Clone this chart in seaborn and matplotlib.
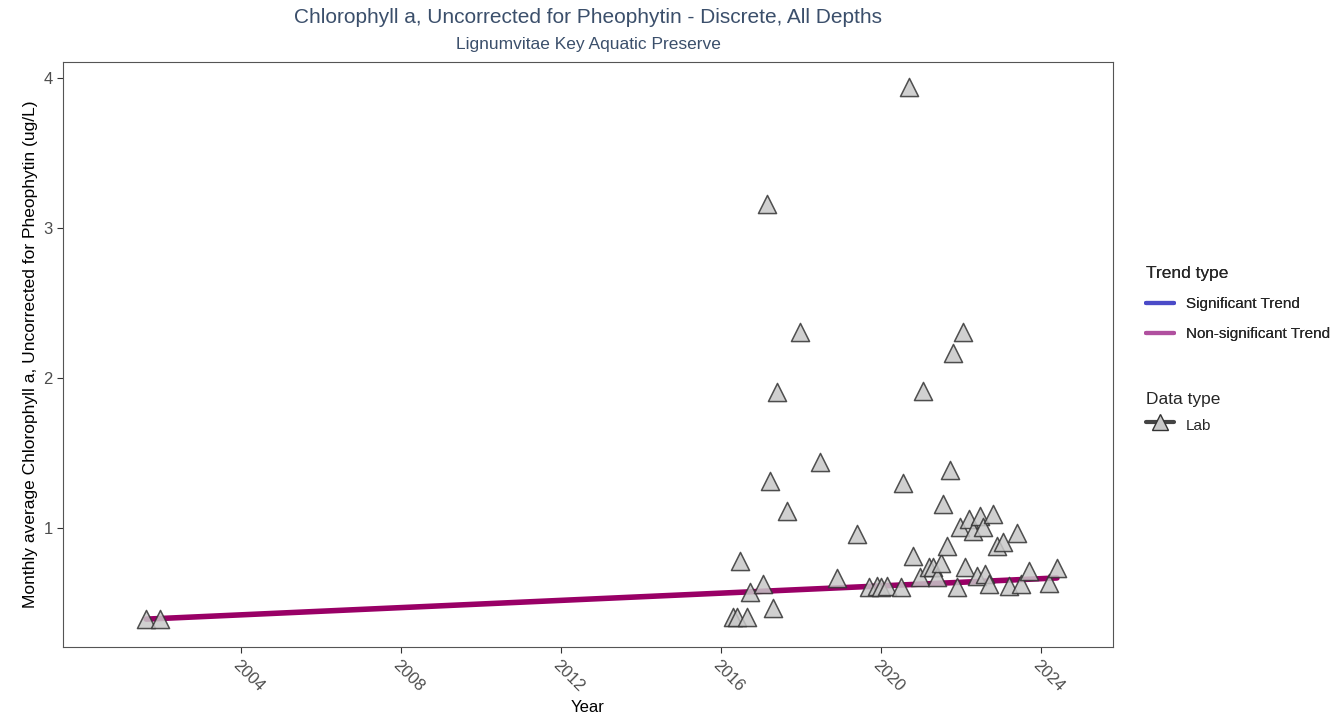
import pandas as pd
import seaborn as sns
import matplotlib.pyplot as plt
from matplotlib.lines import Line2D

# monthly averages (decimal year, ug/L)
years = [2001.63, 2001.98,
         2016.30, 2016.40, 2016.65, 2016.48, 2016.73, 2017.05, 2017.15, 2017.22,
         2017.30, 2017.40, 2017.65, 2017.97, 2018.47, 2018.90, 2019.40,
         2019.70, 2019.90, 2020.00, 2020.15, 2020.50, 2020.55, 2020.70, 2020.80,
         2020.98, 2021.05, 2021.20, 2021.30, 2021.40, 2021.50, 2021.55, 2021.65,
         2021.72, 2021.80, 2021.90, 2021.97, 2022.05, 2022.10, 2022.20, 2022.30,
         2022.40, 2022.47, 2022.55, 2022.60, 2022.70, 2022.80, 2022.90, 2023.05,
         2023.20, 2023.40, 2023.50, 2023.70, 2024.20, 2024.40]
values = [0.39, 0.39,
          0.405, 0.405, 0.405, 0.78, 0.57, 0.625, 3.16, 1.31,
          0.465, 1.907, 1.11, 2.31, 1.44, 0.665, 0.96,
          0.605, 0.61, 0.605, 0.61, 0.605, 1.30, 3.94, 0.81,
          0.67, 1.91, 0.74, 0.74, 0.67, 0.765, 1.16, 0.88,
          1.386, 2.17, 0.605, 1.005, 2.31, 0.74, 1.06, 0.98,
          0.68, 1.08, 1.005, 0.69, 0.625, 1.09, 0.88, 0.905,
          0.61, 0.965, 0.625, 0.71, 0.63, 0.73]

# trend line end points
trend_years = [2001.63, 2024.40]
trend_values = [0.39, 0.665]

x_ticks = [2004, 2008, 2012, 2016, 2020, 2024]

df = pd.DataFrame({"year": years, "value": values, "type": "Lab"})
trend_df = pd.DataFrame({"year": trend_years, "value": trend_values})

sns.set_theme(style="white")
plt.rcParams["font.family"] = ["Liberation Sans", "DejaVu Sans"]

fig = plt.figure(figsize=(13.4, 7.25), dpi=100)
ax = fig.add_axes([0.047, 0.1076, 0.7836, 0.8069])

sns.lineplot(data=trend_df, x="year", y="value", color="#990066", linewidth=4,
             ax=ax, zorder=3)
sns.scatterplot(data=df, x="year", y="value", marker="^", s=170,
                color="#c8c8c8", edgecolor="#333333", linewidth=1.1, alpha=0.85,
                ax=ax, zorder=4, legend=False)

ax.set_xlim(1999.55, 2025.8)
ax.set_ylim(0.204, 4.11)
ax.set_xticks(x_ticks)
ax.set_xticklabels([str(t) for t in x_ticks], rotation=-45, ha="left", va="top",
                   rotation_mode="anchor")
ax.set_yticks([1, 2, 3, 4])
ax.tick_params(axis="both", direction="out", length=4, width=0.8, color="#333333",
               labelsize=12, labelcolor="#4d4d4d", bottom=True, left=True)
for sp in ax.spines.values():
    sp.set_color("#555555")
    sp.set_linewidth(0.8)

ax.set_xlabel("Year", fontsize=12, color="black")
ax.set_ylabel("Monthly average Chlorophyll a, Uncorrected for Pheophytin (ug/L)",
              fontsize=12.5, color="black")

fig.text(0.439, 0.976, "Chlorophyll a, Uncorrected for Pheophytin - Discrete, All Depths",
         ha="center", va="center", fontsize=15, color="#3b4f6b")
fig.text(0.439, 0.939, "Lignumvitae Key Aquatic Preserve",
         ha="center", va="center", fontsize=12.5, color="#3b4f6b")

trend_handles = [
    Line2D([], [], color="#4b4bc8", linewidth=3),
    Line2D([], [], color="#b0509f", linewidth=3),
]
leg1 = fig.legend(trend_handles, ["Significant Trend", "Non-significant Trend"],
                  title="Trend type", loc="upper left", bbox_to_anchor=(0.845, 0.652),
                  frameon=False, fontsize=11, title_fontsize=12.5, handlelength=1.8,
                  labelspacing=1.05, alignment="left")
data_handles = [
    Line2D([], [], color="#444444", linewidth=3, marker="^", markersize=12,
           markerfacecolor="#c8c8c8", markeredgecolor="#333333"),
]
fig.legend(data_handles, ["Lab"], title="Data type", loc="upper left",
           bbox_to_anchor=(0.845, 0.478), frameon=False, fontsize=11,
           title_fontsize=12.5, handlelength=1.8, handleheight=1.6, alignment="left")
fig.add_artist(leg1)

fig.savefig("out.png", dpi=100)
